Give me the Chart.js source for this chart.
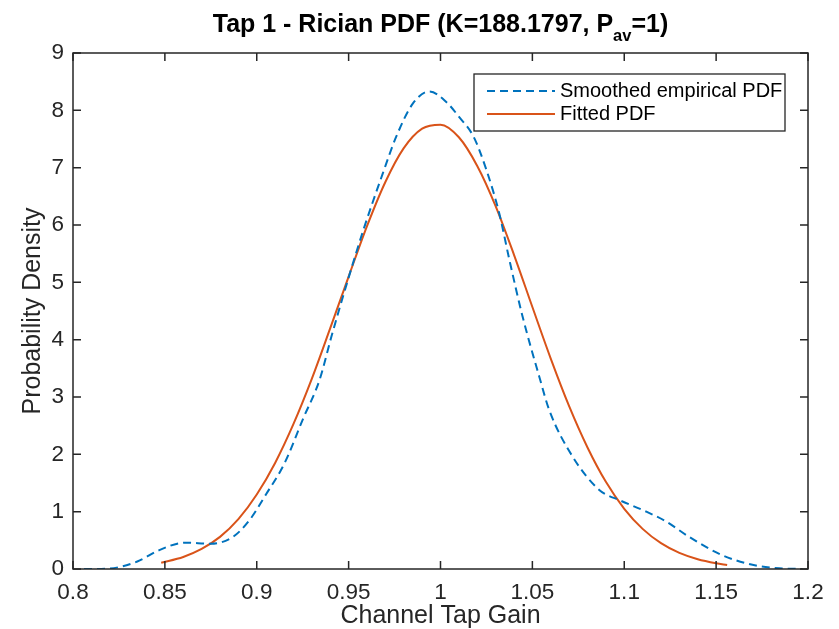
<!DOCTYPE html>
<html>
<head>
<meta charset="utf-8">
<script src="https://cdn.jsdelivr.net/npm/chart.js@4"></script>
<style>
  body { margin: 0; background: #fff; }
  canvas { display: block; }
</style>
</head>
<body>
<canvas id="tap" width="839" height="629"></canvas>
<script>
var xTicks = [0.8, 0.85, 0.9, 0.95, 1, 1.05, 1.1, 1.15, 1.2];
var xTickLabels = ['0.8', '0.85', '0.9', '0.95', '1', '1.05', '1.1', '1.15', '1.2'];
var yTicks = [0, 1, 2, 3, 4, 5, 6, 7, 8, 9];

var empiricalX = [0.806, 0.82, 0.835, 0.847, 0.861, 0.875, 0.887, 0.896, 0.905, 0.9152, 0.9252,
    0.9342, 0.9406, 0.9496, 0.958, 0.9686, 0.9759, 0.985, 0.994, 1.003, 1.010, 1.018, 1.025, 1.032,
    1.0375, 1.0447, 1.0538, 1.0592, 1.0719, 1.0864, 1.0982, 1.1099, 1.1227, 1.1353, 1.1534,
    1.1716, 1.186, 1.197];
var empiricalY = [0, 0.01, 0.13, 0.33, 0.46, 0.44, 0.56, 0.85, 1.3, 1.85, 2.62,
    3.3, 4.05, 5.04, 5.91, 6.9, 7.54, 8.12, 8.33, 8.15, 7.89, 7.54, 6.96, 6.2,
    5.39, 4.40, 3.35, 2.77, 1.96, 1.38, 1.19, 1.03, 0.83, 0.56, 0.24,
    0.06, 0.01, 0];

var fittedX = [0.848, 0.86, 0.87, 0.88, 0.89, 0.90, 0.91, 0.92, 0.93, 0.94, 0.95, 0.96, 0.97,
    0.98, 0.99, 1.00, 1.01, 1.02, 1.03, 1.04, 1.05, 1.06, 1.07, 1.08, 1.09, 1.10, 1.11,
    1.12, 1.13, 1.14, 1.15, 1.156];
var fittedY = [0.11, 0.21, 0.35, 0.56, 0.87, 1.30, 1.85, 2.53, 3.32, 4.20, 5.10, 5.98, 6.75,
    7.34, 7.68, 7.75, 7.53, 7.03, 6.33, 5.48, 4.57, 3.67, 2.84, 2.12, 1.52, 1.05, 0.70,
    0.45, 0.28, 0.17, 0.10, 0.07];

var seriesNames = ['Smoothed empirical PDF', 'Fitted PDF'];

var axisColor = '#262626';
var fontFamily = '"Liberation Sans", Arial, sans-serif';

function pairs(xs, ys) {
    return xs.map(function (x, i) { return { x: x, y: ys[i] }; });
}

/* frame with inward ticks, title and legend, MATLAB style */
var matlabAxes = {
    id: 'matlabAxes',
    afterDraw: function (chart) {
        var ctx = chart.ctx;
        var a = chart.chartArea;
        var xs = chart.scales.x, ys = chart.scales.y;
        var tl = 8;
        ctx.save();
        ctx.strokeStyle = axisColor;
        ctx.lineWidth = 1.5;
        ctx.strokeRect(a.left, a.top, a.right - a.left, a.bottom - a.top);
        ctx.beginPath();
        xTicks.forEach(function (v) {
            var px = xs.getPixelForValue(v);
            ctx.moveTo(px, a.bottom); ctx.lineTo(px, a.bottom - tl);
            ctx.moveTo(px, a.top); ctx.lineTo(px, a.top + tl);
        });
        yTicks.forEach(function (v) {
            var py = ys.getPixelForValue(v);
            ctx.moveTo(a.left, py); ctx.lineTo(a.left + tl, py);
            ctx.moveTo(a.right, py); ctx.lineTo(a.right - tl, py);
        });
        ctx.stroke();

        // title with subscript
        var parts = [
            { t: 'Tap 1 - Rician PDF (K=188.1797, P', f: 'bold 25px ' + fontFamily, dy: 0 },
            { t: 'av', f: 'bold 16.5px ' + fontFamily, dy: 9 },
            { t: '=1)', f: 'bold 25px ' + fontFamily, dy: 0 }
        ];
        var total = 0;
        parts.forEach(function (p) { ctx.font = p.f; p.w = ctx.measureText(p.t).width; total += p.w; });
        var tx = (a.left + a.right) / 2 - total / 2;
        ctx.fillStyle = '#000';
        ctx.textBaseline = 'alphabetic';
        ctx.textAlign = 'left';
        parts.forEach(function (p) {
            ctx.font = p.f;
            ctx.fillText(p.t, tx, 32 + p.dy);
            tx += p.w;
        });

        // legend box
        var bx = 474, by = 74, bw = 311, bh = 57;
        ctx.fillStyle = '#fff';
        ctx.fillRect(bx, by, bw, bh);
        ctx.strokeStyle = axisColor;
        ctx.lineWidth = 1.3;
        ctx.strokeRect(bx, by, bw, bh);
        ctx.font = '20px ' + fontFamily;
        ctx.textBaseline = 'middle';
        chart.data.datasets.forEach(function (ds, i) {
            var ly = by + 17 + i * 23;
            ctx.beginPath();
            ctx.strokeStyle = ds.borderColor;
            ctx.lineWidth = ds.borderWidth;
            ctx.setLineDash(ds.borderDash || []);
            ctx.moveTo(bx + 13, ly);
            ctx.lineTo(bx + 81, ly);
            ctx.stroke();
            ctx.setLineDash([]);
            ctx.fillStyle = '#000';
            ctx.fillText(ds.label, bx + 86, ly);
        });
        ctx.restore();
    }
};

var ctxTap = document.getElementById('tap');

var dataTap = {
    datasets: [{
        label: seriesNames[0],
        data: pairs(empiricalX, empiricalY),
        borderColor: '#0072BD',
        borderWidth: 2,
        borderDash: [8, 5],
        pointRadius: 0,
        cubicInterpolationMode: 'monotone',
        showLine: true,
        fill: false
    }, {
        label: seriesNames[1],
        data: pairs(fittedX, fittedY),
        borderColor: '#D95319',
        borderWidth: 2,
        pointRadius: 0,
        cubicInterpolationMode: 'monotone',
        showLine: true,
        fill: false
    }]
};

var optionsTap = {
    responsive: false,
    animation: false,
    layout: { padding: { top: 53, right: 31, bottom: 0, left: 0 } },
    plugins: {
        legend: { display: false },
        title: { display: false },
        tooltip: { enabled: false }
    },
    scales: {
        x: {
            type: 'linear',
            min: 0.8,
            max: 1.2,
            afterBuildTicks: function (s) { s.ticks = xTicks.map(function (v) { return { value: v }; }); },
            afterFit: function (s) { s.height = 60; },
            grid: { display: false, drawTicks: false },
            border: { display: false },
            ticks: {
                color: axisColor,
                padding: 10,
                maxRotation: 0,
                autoSkip: false,
                font: { family: fontFamily, size: 22.5 },
                callback: function (v, i) { return xTickLabels[i]; }
            },
            title: {
                display: true,
                text: 'Channel Tap Gain',
                color: axisColor,
                padding: { top: 0, bottom: 0 },
                font: { family: fontFamily, size: 25, lineHeight: 1 }
            }
        },
        y: {
            type: 'linear',
            min: 0,
            max: 9,
            afterBuildTicks: function (s) { s.ticks = yTicks.map(function (v) { return { value: v }; }); },
            afterFit: function (s) { s.width = 73; },
            grid: { display: false, drawTicks: false },
            border: { display: false },
            ticks: {
                color: axisColor,
                padding: 9,
                autoSkip: false,
                font: { family: fontFamily, size: 22.5 }
            },
            title: {
                display: true,
                text: 'Probability Density',
                color: axisColor,
                padding: { top: 21, bottom: 0 },
                font: { family: fontFamily, size: 25, lineHeight: 1 }
            }
        }
    }
};

var tapChart = new Chart(ctxTap, {
    type: 'scatter',
    data: dataTap,
    options: optionsTap,
    plugins: [matlabAxes]
});
</script>
</body>
</html>
